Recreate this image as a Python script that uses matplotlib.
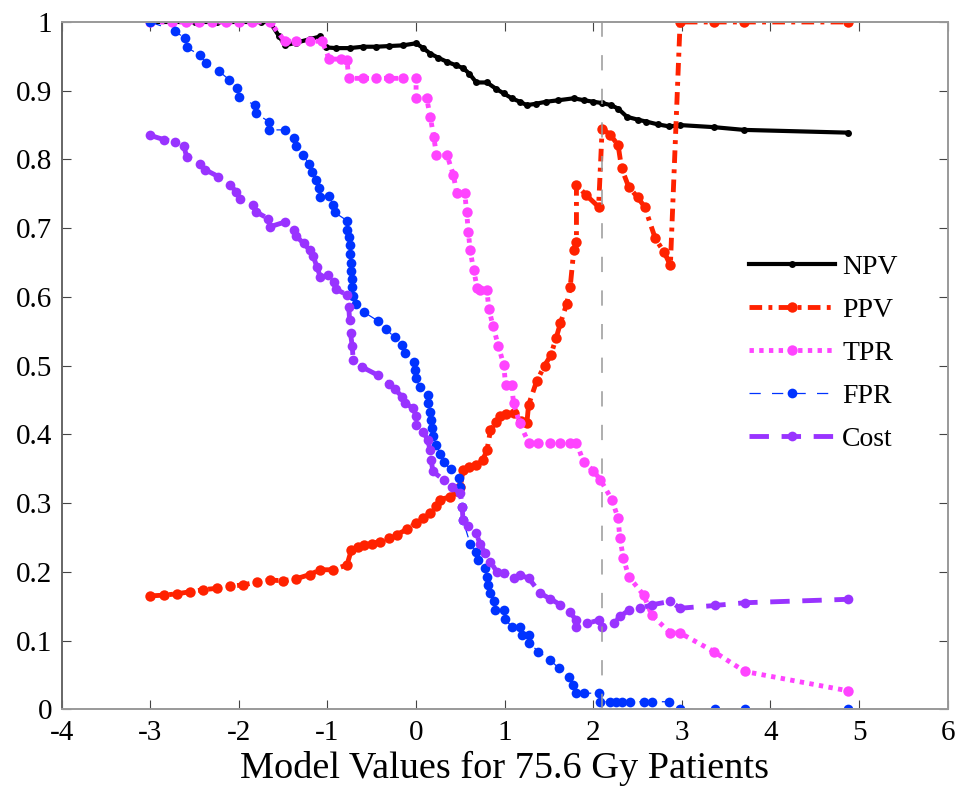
import numpy as np
import matplotlib.pyplot as plt

plt.rcParams['font.family'] = 'serif'
plt.rcParams['font.serif'] = ['Liberation Serif', 'DejaVu Serif']
plt.rcParams['axes.unicode_minus'] = False

# threshold sweep over model values
npv_x = [-3.0, -2.75, -2.5, -2.25, -2.0, -1.75, -1.65, -1.55, -1.48, -1.35, -1.2, -1.08, -1.02,
         -0.9, -0.75, -0.6, -0.45, -0.3, -0.15, 0.0, 0.08, 0.16, 0.25, 0.35, 0.45, 0.53, 0.6,
         0.68, 0.8, 0.9, 0.99, 1.08, 1.17, 1.25, 1.35, 1.47, 1.6, 1.78, 1.9, 2.0, 2.1, 2.2,
         2.28, 2.38, 2.5, 2.6, 2.73, 2.86, 2.98, 3.36, 3.70, 4.87]
npv_y = [1, 1, 1, 1, 1, 1, 1, .98, .966, .970, .975, .979, .963, .962, .962, .964, .964, .965,
         .966, .969, .962, .954, .948, .942, .937, .933, .925, .912, .912, .903, .896, .889,
         .884, .879, .881, .884, .886, .889, .886, .884, .882, .879, .874, .862, .858, .855,
         .851, .848, .850, .847, .843, .839]

ppv_x = [-3.0, -2.85, -2.7, -2.55, -2.4, -2.25, -2.1, -1.95, -1.8, -1.65, -1.5, -1.35, -1.2,
         -1.08, -0.94, -0.78, -0.73, -0.66, -0.59, -0.5, -0.41, -0.3, -0.22, -0.1, 0.0, 0.08,
         0.16, 0.22, 0.27, 0.38, 0.45, 0.50, 0.53, 0.6, 0.68, 0.75, 0.80, 0.84, 0.90, 0.95,
         1.02, 1.10, 1.18, 1.25, 1.27, 1.36, 1.45, 1.52, 1.58, 1.63, 1.70, 1.74, 1.78, 1.81,
         1.81, 1.92, 2.06, 2.10, 2.19, 2.28, 2.32, 2.40, 2.50, 2.58, 2.70, 2.80, 2.87, 2.98,
         3.36, 3.70, 4.87]
ppv_y = [.165, .166, .168, .171, .174, .176, .179, .181, .185, .188, .187, .190, .196, .203,
         .203, .210, .232, .236, .239, .241, .244, .249, .254, .262, .271, .278, .285, .296,
         .305, .309, .318, .324, .348, .352, .355, .362, .377, .406, .418, .426, .430, .431,
         .42, .416, .443, .477, .50, .515, .54, .562, .59, .615, .668, .68, .763, .748, .731,
         .845, .836, .821, .787, .760, .745, .731, .685, .665, .646, 1.0, 1.0, 1.0, 1.0]

tpr_x = [-3.0, -2.75, -2.6, -2.45, -2.3, -2.15, -2.0, -1.85, -1.65, -1.48, -1.35, -1.2, -1.06,
         -0.98, -0.85, -0.78, -0.76, -0.6, -0.45, -0.3, -0.15, 0.0, 0.0, 0.12, 0.16, 0.20,
         0.23, 0.35, 0.42, 0.46, 0.55, 0.57, 0.59, 0.61, 0.65, 0.69, 0.72, 0.80, 0.82, 0.87,
         0.93, 0.99, 1.01, 1.08, 1.10, 1.17, 1.27, 1.38, 1.51, 1.62, 1.74, 1.81, 1.89, 2.0,
         2.08, 2.21, 2.28, 2.30, 2.34, 2.40, 2.57, 2.66, 2.87, 2.98, 3.36, 3.71, 4.87]
tpr_y = [1, 1, 1, 1, 1, 1, 1, 1, 1, .972, .972, .972, .972, .946, .946, .945, .918, .918,
         .918, .918, .918, .918, .889, .889, .862, .833, .806, .806, .778, .751, .751, .724,
         .695, .668, .639, .613, .610, .610, .583, .557, .528, .501, .472, .472, .445, .416,
         .388, .388, .388, .388, .388, .388, .360, .347, .334, .305, .278, .249, .220, .193,
         .166, .137, .111, .111, .084, .055, .027]

fpr_x = [-3.0, -2.72, -2.61, -2.59, -2.44, -2.37, -2.22, -2.11, -2.02, -2.0, -1.82, -1.81,
         -1.66, -1.66, -1.48, -1.38, -1.36, -1.28, -1.21, -1.17, -1.13, -1.09, -1.08, -0.98,
         -0.94, -0.92, -0.78, -0.78, -0.76, -0.75, -0.75, -0.74, -0.74, -0.72, -0.72, -0.71,
         -0.68, -0.59, -0.43, -0.34, -0.24, -0.16, -0.12, -0.02, -0.01, 0.0, 0.04, 0.13, 0.14,
         0.16, 0.17, 0.18, 0.19, 0.23, 0.27, 0.31, 0.39, 0.48, 0.50, 0.52, 0.53, 0.61, 0.68,
         0.70, 0.78, 0.80, 0.81, 0.84, 0.88, 0.89, 0.99, 1.0, 1.08, 1.17, 1.19, 1.27, 1.28,
         1.38, 1.51, 1.61, 1.73, 1.77, 1.80, 1.90, 2.07, 2.08, 2.19, 2.26, 2.32, 2.42, 2.57,
         2.66, 2.86, 2.98, 3.37, 3.71, 4.87]
fpr_y = [1.0, .987, .976, .963, .952, .940, .928, .916, .904, .891, .879, .867, .855, .843,
         .843, .831, .819, .807, .794, .782, .770, .758, .746, .747, .734, .723, .711, .698,
         .687, .675, .662, .650, .638, .626, .614, .602, .590, .578, .565, .553, .541, .530,
         .518, .506, .494, .482, .469, .457, .445, .433, .421, .409, .397, .385, .372, .360,
         .349, .336, .324, .295, .275, .241, .229, .217, .205, .193, .181, .169, .157, .145,
         .145, .132, .120, .120, .108, .108, .096, .084, .072, .060, .047, .035, .023, .023,
         .024, .011, .011, .011, .011, .011, .011, .011, .011, 0, 0, 0, 0]

cost_x = [-3.0, -2.85, -2.72, -2.62, -2.59, -2.44, -2.38, -2.23, -2.10, -2.03, -1.99, -1.84,
          -1.81, -1.67, -1.65, -1.48, -1.38, -1.35, -1.27, -1.20, -1.16, -1.12, -1.08, -0.99,
          -0.93, -0.90, -0.78, -0.76, -0.75, -0.74, -0.72, -0.71, -0.61, -0.43, -0.31, -0.24,
          -0.16, -0.12, -0.03, 0.0, 0.0, 0.08, 0.13, 0.16, 0.17, 0.19, 0.31, 0.40, 0.50, 0.52,
          0.53, 0.59, 0.68, 0.72, 0.78, 0.84, 0.91, 0.99, 1.10, 1.17, 1.27, 1.40, 1.51, 1.63,
          1.74, 1.80, 1.81, 1.93, 2.07, 2.10, 2.23, 2.30, 2.40, 2.53, 2.66, 2.87, 2.98, 3.37,
          3.71, 4.87]
cost_y = [.835, .829, .825, .819, .804, .794, .785, .775, .763, .753, .743, .734, .724, .714,
          .702, .709, .698, .688, .678, .668, .659, .644, .629, .632, .622, .611, .603, .586,
          .566, .547, .528, .508, .498, .486, .474, .466, .455, .445, .438, .426, .414, .404,
          .392, .377, .363, .346, .334, .324, .314, .295, .275, .266, .256, .241, .227, .215,
          .200, .198, .191, .195, .191, .169, .161, .152, .142, .130, .120, .125, .130, .120,
          .125, .135, .144, .147, .152, .157, .147, .151, .155, .160]

cutoff = 2.1  # chosen operating point

xtick_vals = list(range(-4, 7))
ytick_vals = [0, 0.1, 0.2, 0.3, 0.4, 0.5, 0.6, 0.7, 0.8, 0.9, 1]
ytick_text = ['0', '0.1', '0.2', '0.3', '0.4', '0.5', '0.6', '0.7', '0.8', '0.9', '1']

fig = plt.figure(figsize=(9.59, 7.88), dpi=100)
ax = fig.add_axes([0.0643, 0.0999, 0.9239, 0.8722])

ax.plot(npv_x, npv_y, '-', color='black', lw=3, marker='o', ms=5, mew=0, label='NPV')
ax.plot(ppv_x, ppv_y, color='#FF2200', lw=3.5, dashes=(2.6, 1.3, 0.8, 1.3), marker='o', ms=7.5,
        mew=0, label='PPV')
ax.plot(tpr_x, tpr_y, color='#FF44FF', lw=3.5, dashes=(0.9, 1.1), marker='o', ms=7.5, mew=0,
        label='TPR')
ax.plot(fpr_x, fpr_y, color='#0033FF', lw=0.9, dashes=(9, 9), marker='o', ms=7, mew=0,
        label='FPR')
ax.plot(cost_x, cost_y, color='#9933FF', lw=3.5, dashes=(4, 2.6), marker='o', ms=7, mew=0,
        label='Cost')
ax.plot([cutoff, cutoff], [0, 1], color='#999999', lw=1.1, dashes=(10, 12))

ax.set_xlim(-4, 6)
ax.set_ylim(0, 1)
ax.set_xticks(xtick_vals, [str(v) for v in xtick_vals], fontsize=21)
ax.set_yticks(ytick_vals, ytick_text, fontsize=21)
ax.tick_params(direction='in', top=True, right=True, length=6.5, width=0.8, color='#444444',
               pad=7)
ax.tick_params(axis='x', pad=8)
for s in ax.spines.values():
    s.set_color('#999999')
    s.set_linewidth(1.4)
ax.spines['left'].set_color('#666666')

ax.set_xlabel('Model Values for 75.6 Gy Patients', fontsize=27.5, labelpad=3)

ax.legend(loc='upper left', bbox_to_anchor=(0.776, 0.662), frameon=False, fontsize=20,
          handlelength=3.1, handletextpad=0.25, labelspacing=0.63, borderpad=0,
          borderaxespad=0)

fig.savefig('out.png', dpi=100)
